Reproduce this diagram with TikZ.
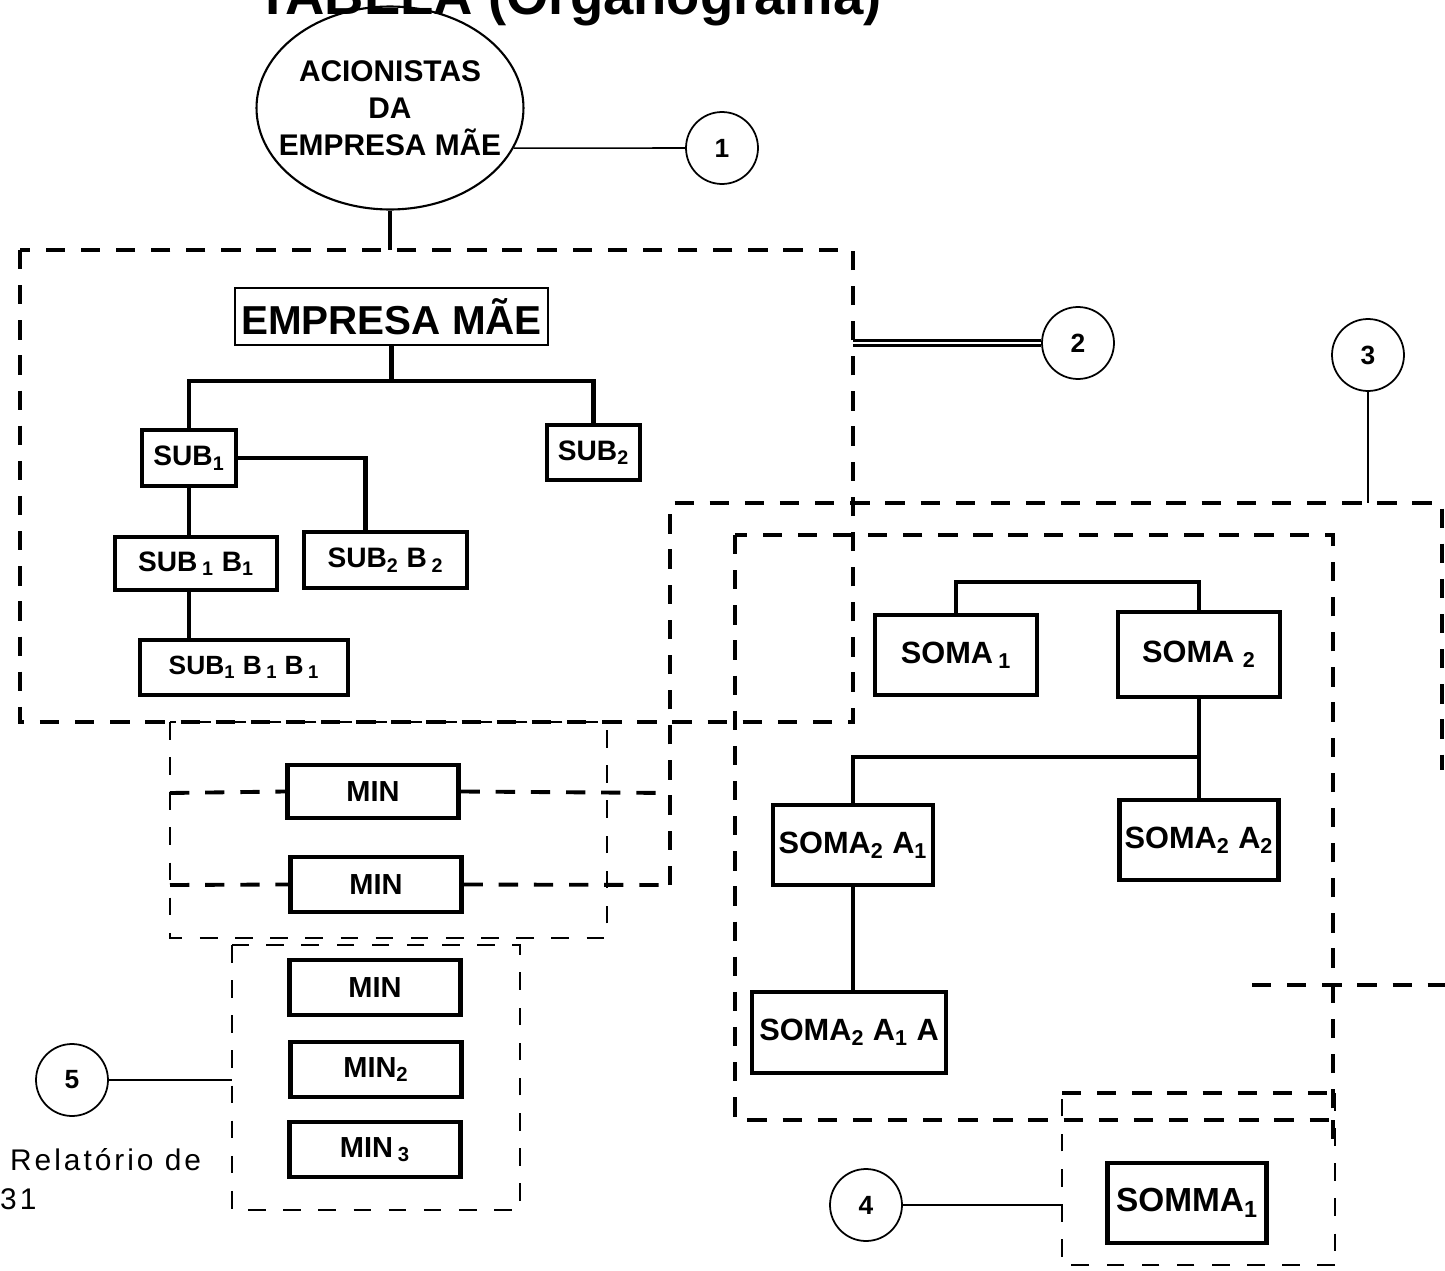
\documentclass[tikz,border=0pt]{standalone}
\usepackage{fontspec}
\setmainfont{Liberation Sans}
\newfontfamily\spacedfont[LetterSpace=10]{Liberation Sans}
\usetikzlibrary{shapes.geometric,calc}
\newcommand{\idx}[1]{\textsubscript{#1}}

\begin{document}
\begin{tikzpicture}[x=0.02cm, y=-0.02cm,
  every node/.style={align=center, font=\bfseries},
  box/.style={draw, line width=2.4pt, inner sep=0pt,
              font=\bfseries\fontsize{16}{19}\selectfont},
  somabox/.style={box, minimum width=3.2cm, minimum height=1.6cm,
              font=\bfseries\fontsize{17.5}{20}\selectfont},
  minbox/.style={box, minimum width=3.42cm, minimum height=1.1cm,
              font=\bfseries\fontsize{16.5}{19}\selectfont},
  num/.style={draw, circle, line width=1pt, minimum size=1.44cm, inner sep=0pt,
              font=\bfseries\fontsize{15}{18}\selectfont},
  conn/.style={line width=2.6pt},
  lead/.style={line width=0.9pt},
  dashbig/.style={line width=2.2pt, dash pattern=on 11pt off 9pt},
  dashsmall/.style={line width=1.2pt, dash pattern=on 10pt off 10pt},
]
  \useasboundingbox (0,0) rectangle (1445,1271);

  % Title (cut at the top edge)
  \node[anchor=base east, font=\bfseries\fontsize{31}{36}\selectfont] (title) at (888,14)
    {TABELA (Organograma)};

  % Shareholders
  \node[draw, ellipse, line width=1.2pt, minimum width=5.34cm, minimum height=4.06cm,
        inner sep=0pt] (acion) at (390,108) {};
  \node[font=\bfseries\fontsize{17}{21}\selectfont] (aciontxt) at (acion)
    {ACIONISTAS\\DA\\EMPRESA MÃE};
  \node[num] (c1) at (722,148) {1};
  \draw[lead] (acion.-18) -- (c1.west);

  % Dashed groups
  \coordinate (b2nw) at (20,250);  \coordinate (b2se) at (853,722);
  \coordinate (b3nw) at (670,503); \coordinate (b3in) at (735,535);
  \coordinate (b4nw) at (1062,1093); \coordinate (b5nw) at (232,945);
  \draw[dashbig] (b2nw) rectangle (b2se);
  \draw[dashsmall] (170,722) rectangle (607,938);
  \draw[dashsmall] (b5nw) rectangle (520,1210);
  \draw[dashbig] (670,885) -- (b3nw) -- (1442,503) -- (1442,770);
  \draw[dashbig] (1252,985) -- (1445,985);
  \draw[dashbig] (b3in) rectangle (1333,1120);
  \draw[dashbig] (1333,1120) -- (1333,1140);
  \draw[dashsmall] (1335,1265) -| (b4nw);
  \draw[dashbig] (b4nw) -- (1335,1093);
  \draw[dashsmall] (1335,1093) -- (1335,1265);

  % Parent company tree
  \node[box, line width=1.1pt, minimum width=6.26cm, minimum height=1.14cm,
        font=\bfseries\fontsize{23}{27}\selectfont] (emp) at (391.5,316.5) {EMPRESA MÃE};
  \node[box, minimum width=1.88cm, minimum height=1.12cm] (sub1) at (189,458) {SUB\idx{1}};
  \node[box, minimum width=1.86cm, minimum height=1.1cm] (sub2) at (593.5,452.5) {SUB\idx{2}};
  \node[box, minimum width=3.24cm, minimum height=1.06cm] (sub1b1) at (196,563.5)
    {SUB\,\idx{1} B\idx{1}};
  \node[box, minimum width=3.26cm, minimum height=1.12cm] (sub2b2) at (385.5,560)
    {SUB\idx{2} B\,\idx{2}};
  \node[box, minimum width=4.16cm, minimum height=1.1cm,
        font=\bfseries\fontsize{15}{18}\selectfont] (sub1b1b1) at (244,667.5)
    {SUB\idx{1} B\,\idx{1} B\,\idx{1}};

  \coordinate (barA) at (391.5,381);
  \draw[conn] (acion.south) -- (acion.south |- b2nw);
  \draw[conn] (emp.south) -- (barA);
  \draw[conn] (sub1.north) |- (barA) -| (sub2.north);
  \draw[conn] (sub1.east) -| ([xshift=-0.4cm]sub2b2.north);
  \draw[conn] (sub1.south) -- (sub1.south |- sub1b1.north);
  \draw[conn] (sub1b1.south -| sub1.south) -- (sub1.south |- sub1b1b1.north);

  \node[num] (c2) at (1078,343) {2};
  \draw[double, double distance=1pt, line width=1.6pt] (b2se |- c2) -- (c2.west);

  % MIN boxes
  \node[minbox, minimum height=1.06cm] (min1) at (373,791.5) {MIN};
  \node[minbox] (min2) at (376,884.5) {MIN};
  \node[minbox] (min3) at (375,987.5) {MIN};
  \node[minbox] (min4) at (376,1069.5) {MIN\idx{2}};
  \node[minbox] (min5) at (375,1149.5) {MIN\,\idx{3}};
  \draw[dashbig] (170,793) -- (min1.west);
  \draw[dashbig] (min1.east) -- (670,793);
  \draw[dashbig] (170,885) -- (min2.west);
  \draw[dashbig] (min2.east) -- (670,885);

  \node[num] (c5) at (72,1080) {5};
  \draw[lead] (c5.east) -- (c5.east -| b5nw);

  % SOMA tree
  \node[num] (c3) at (1368,355) {3};
  \draw[lead] (c3.south) -- (c3.south |- b3nw);

  \node[somabox, minimum width=3.24cm] (soma1) at (956,655) {SOMA\,\idx{1}};
  \node[somabox, minimum width=3.24cm, minimum height=1.7cm] (soma2) at (1199,654.5)
    {SOMA\ \idx{2}};
  \node[somabox] (soma2a1) at (853,845) {SOMA\idx{2} A\idx{1}};
  \node[somabox, minimum width=3.18cm] (soma2a2) at (1199,840) {SOMA\idx{2} A\idx{2}};
  \node[somabox, minimum width=3.88cm, minimum height=1.62cm] (soma2a1a) at (849,1032.5)
    {SOMA\idx{2} A\idx{1} A};

  \coordinate (barB) at (1199,582);
  \coordinate (barC) at (1199,757);
  \draw[conn] (soma1.north) |- (barB) -- (soma2.north);
  \draw[conn] (soma2.south) -- (soma2a2.north);
  \draw[conn] (soma2a1.north) |- (barC);
  \draw[conn] (soma2a1.south) -- (soma2a1.south |- soma2a1a.north);

  % SOMMA
  \node[somabox, minimum width=3.18cm, font=\bfseries\fontsize{19}{22}\selectfont]
    (somma1) at (1187,1203) {SOMMA\idx{1}};
  \node[num] (c4) at (866,1205) {4};
  \draw[lead] (c4.east) -- (c4.east -| b4nw);

  % Source note (cut at the left edge)
  \node[anchor=base west, font=\spacedfont\fontsize{17}{20}\selectfont] (src1) at (4,1170)
    {Relatório de};
  \node[anchor=base west, font=\spacedfont\fontsize{17}{20}\selectfont] (src2) at (-6,1209)
    {31};
\end{tikzpicture}
\end{document}
